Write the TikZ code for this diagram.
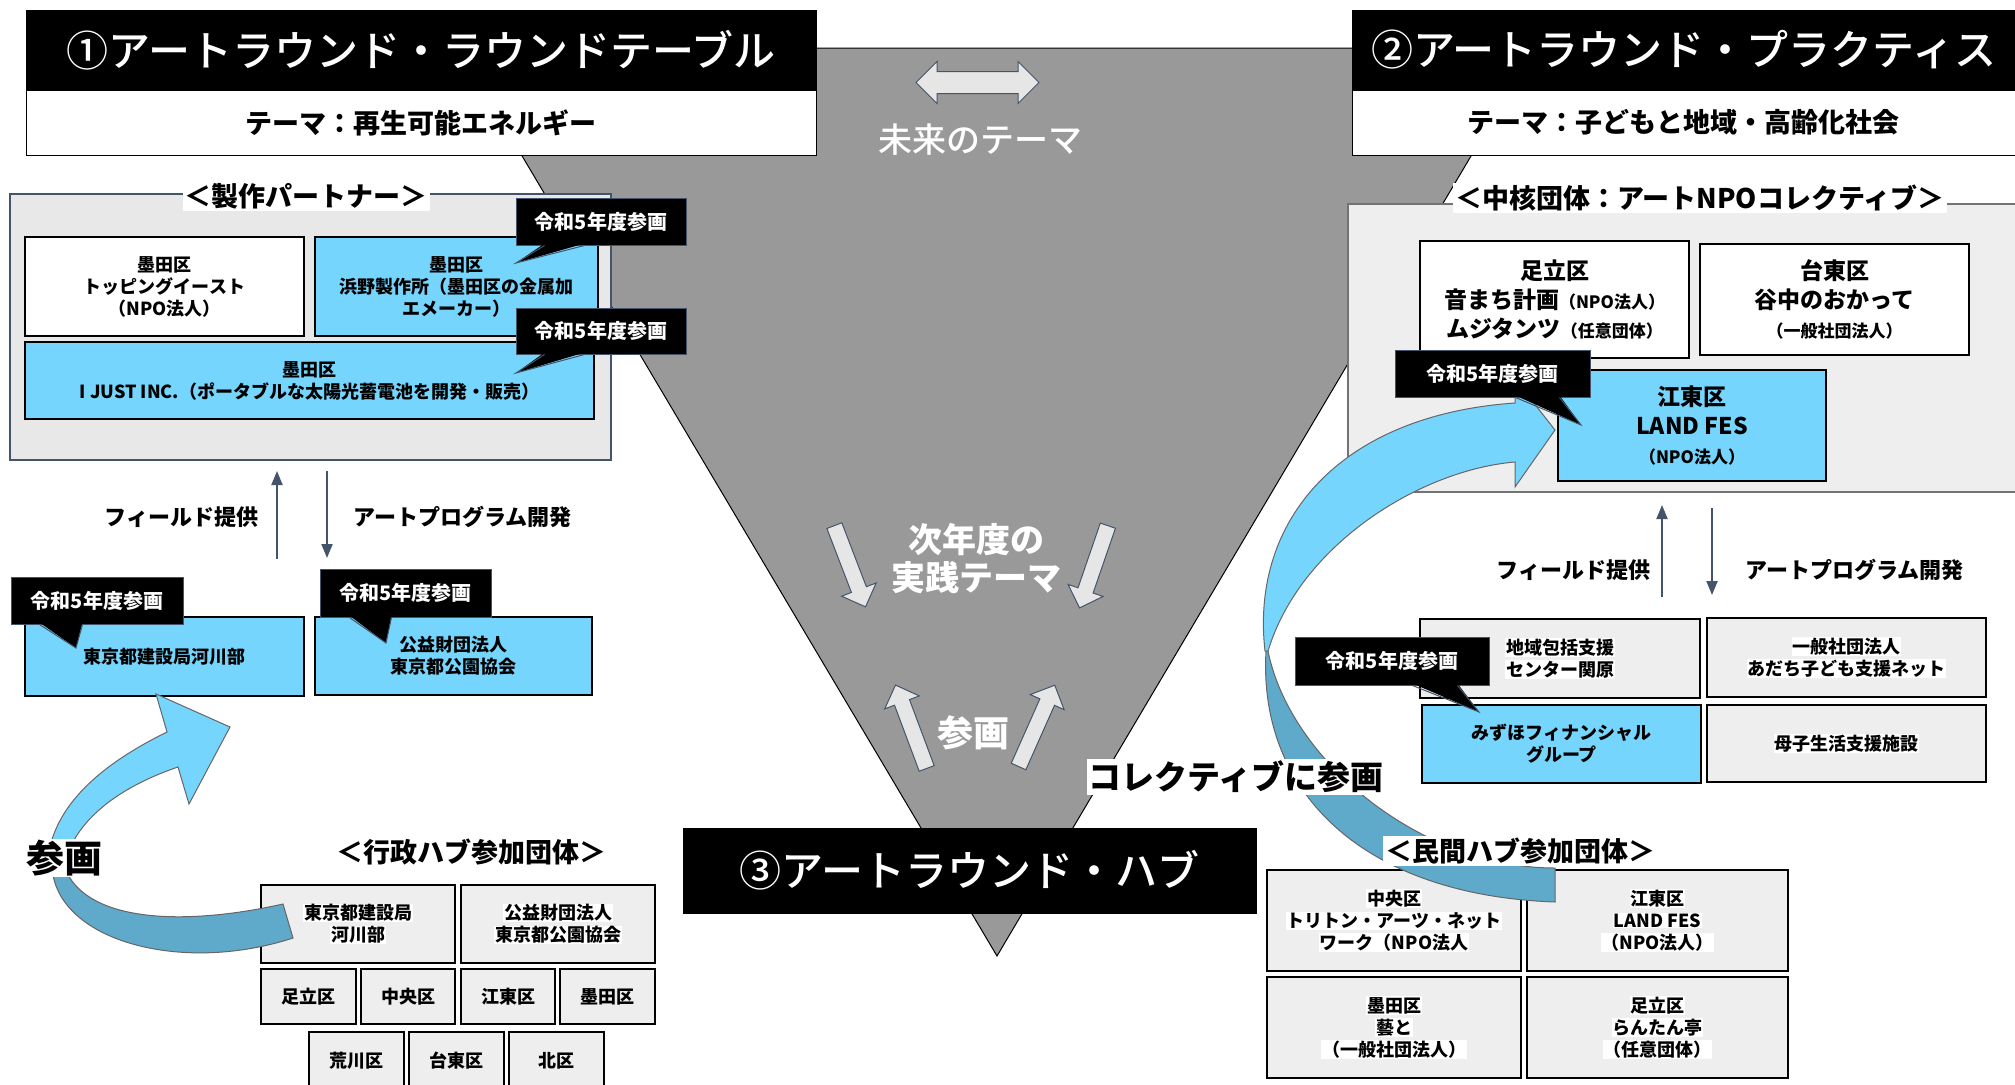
\documentclass[tikz,border=0pt]{standalone}
\usepackage{fontspec}
\setmainfont{Noto Sans CJK JP}
\newfontfamily\mediumjp{Noto Sans CJK JP Medium}
\usetikzlibrary{shapes.arrows,arrows.meta,calc}

\definecolor{boxcyan}{HTML}{75D5FD}
\definecolor{arrowdark}{HTML}{5FA9CA}
\definecolor{slate}{HTML}{44546A}
\definecolor{panelgray}{HTML}{E8E8E8}
\definecolor{cellgray}{HTML}{EEEEEE}
\definecolor{funnelgray}{HTML}{999999}
\definecolor{lightarrow}{HTML}{E7E6E6}

\setlength{\fboxsep}{0.8pt}
\newcommand{\whitebg}[1]{\colorbox{white}{#1}}
\newcommand{\orgtype}[1]{{\fontsize{17}{29}\selectfont #1}}

\tikzset{
  titlebox/.style={draw=black, fill=black, text=white, inner sep=0pt, font=\mediumjp\fontsize{42}{46}\selectfont},
  themebox/.style={draw=black, line width=1pt, fill=white, inner sep=0pt, font=\bfseries\fontsize{27}{30}\selectfont},
  panel/.style={draw=slate, line width=1.5pt, fill=panelgray, inner sep=0pt},
  orgbox/.style={draw=black, line width=1.5pt, inner sep=0pt, align=center, font=\bfseries\fontsize{18}{22}\selectfont},
  whitebox/.style={orgbox, fill=white},
  cyanbox/.style={orgbox, fill=boxcyan},
  graybox/.style={orgbox, fill=cellgray},
  bigorg/.style={font=\bfseries\fontsize{23}{29}\selectfont},
  callout/.style={draw=slate, line width=1pt, fill=black, text=white, inner sep=0pt, font=\bfseries\fontsize{20}{22}\selectfont},
  tailfill/.style={fill=black},
  tailline/.style={draw=slate, line width=1pt},
  headline/.style={fill=white, inner sep=2pt, font=\bfseries\fontsize{27}{30}\selectfont},
  flowlabel/.style={font=\bfseries\fontsize{22}{24}\selectfont},
  flowarrow/.style={draw=slate, line width=2pt, -{Triangle[length=14pt,width=11pt]}},
  funneltext/.style={text=white, align=center, font=\mediumjp\fontsize{34}{38}\selectfont},
  blockarrow/.style={single arrow, draw=slate, fill=lightarrow, line width=1pt, inner xsep=0pt, inner ysep=7.5pt, single arrow head extend=10.5pt},
  bendlight/.style={fill=boxcyan, draw=black!60, line width=1pt},
  benddark/.style={fill=arrowdark, draw=black!60, line width=1pt},
}

\begin{document}
\begin{tikzpicture}[x=1pt,y=-1pt]

\useasboundingbox (0,0) rectangle (2015,1084);

%FUNNEL
\filldraw[fill=funnelgray, draw=black, line width=1pt] (458,48) -- (1535,48) -- (997,956) -- cycle;

%TITLES
\node[titlebox, minimum width=790pt, minimum height=80pt](roundtable) at (421,50) {①アートラウンド・ラウンドテーブル};
\node[themebox, minimum width=790pt, minimum height=65pt](roundtheme) at (421,122.5) {テーマ：再生可能エネルギー};
\node[titlebox, minimum width=663pt, minimum height=80pt](practice) at (1683.5,50) {②アートラウンド・プラクティス};
\node[themebox, minimum width=663pt, minimum height=65pt](practheme) at (1683.5,122.5) {テーマ：子どもと地域・高齢化社会};

%PARTNERS
\node[panel, minimum width=601pt, minimum height=266pt](partners) at (310.5,327) {};
\node[whitebox, minimum width=279pt, minimum height=99pt](topping) at (164.5,286.5) {墨田区\\トッピングイースト\\（NPO法人）};
\node[cyanbox, minimum width=283pt, minimum height=99pt](hamano) at (456.5,286.5) {墨田区\\浜野製作所（墨田区の金属加\\エメーカー）};
\node[cyanbox, minimum width=569pt, minimum height=77pt](ijust) at (309.5,380.5) {墨田区\\I JUST INC.（ポータブルな太陽光蓄電池を開発・販売）};

%CORE
\node[fill=cellgray, inner sep=0pt, minimum width=667pt, minimum height=288pt](core) at (1681.5,348) {};
\draw[black!55, line width=1.5pt] (core.north east) -- (core.north west) -- (core.south west) -- (core.south east);
\node[whitebox, bigorg, minimum width=269pt, minimum height=117pt](otomachi) at (1554.5,299.5) {足立区\\音まち計画\orgtype{（NPO法人）}\\ムジタンツ\orgtype{（任意団体）}};
\node[whitebox, bigorg, minimum width=269pt, minimum height=111pt](yanaka) at (1834.5,299.5) {台東区\\谷中のおかって\\\orgtype{（一般社団法人）}};
\node[cyanbox, bigorg, minimum width=268pt, minimum height=111pt](landfes) at (1692,425.5) {江東区\\LAND FES\\\orgtype{（NPO法人）}};

%FIELD ARROWS
\coordinate(fieldA1) at (277,559);
\coordinate(fieldA2) at (277,471);
\coordinate(progA1) at (327,471);
\coordinate(progA2) at (327,558);
\draw[flowarrow] (fieldA1) -- (fieldA2);
\draw[flowarrow] (progA1) -- (progA2);
\node[flowlabel, anchor=east](fieldlabelA) at (262,517) {フィールド提供};
\node[flowlabel, anchor=west](proglabelA) at (350,517) {アートプログラム開発};

\coordinate(fieldB1) at (1662,597);
\coordinate(fieldB2) at (1662,505);
\coordinate(progB1) at (1712,508);
\coordinate(progB2) at (1712,595);
\draw[flowarrow] (fieldB1) -- (fieldB2);
\draw[flowarrow] (progB1) -- (progB2);
\node[flowlabel, anchor=east](fieldlabelB) at (1654,570) {フィールド提供};
\node[flowlabel, anchor=west](proglabelB) at (1742,570) {アートプログラム開発};

%FUNNEL ARROWS
\node[double arrow, draw=slate, fill=lightarrow, line width=1pt, inner xsep=0pt, inner ysep=10.5pt, minimum height=123pt, double arrow head extend=10pt](future) at (977.5,82.5) {};
\node[funneltext](futuretext) at (980,140) {未来のテーマ};
\node[blockarrow, minimum height=87pt, rotate=-69](downA) at (848.5,562.5) {};
\node[blockarrow, minimum height=87pt, rotate=-109](downB) at (1095,563) {};
\node[funneltext, font=\bfseries\fontsize{34}{38}\selectfont](nexttext) at (976,559) {次年度の\\実践テーマ};
\node[blockarrow, minimum height=89pt, rotate=110.5](upA) at (912.5,730.5) {};
\node[blockarrow, minimum height=89pt, rotate=66](upB) at (1035,729.5) {};
\node[funneltext, font=\bfseries\fontsize{36}{38}\selectfont](jointext) at (973,733) {参画};

%HUB
\node[titlebox, minimum width=573pt, minimum height=85pt](hub) at (969.5,870.5) {③アートラウンド・ハブ};

%GOVERNMENT
\node[cyanbox, minimum width=279pt, minimum height=79pt](kasen) at (164.5,656.5) {東京都建設局河川部};
\node[cyanbox, minimum width=277pt, minimum height=78pt](koen) at (453.5,656) {公益財団法人\\東京都公園協会};

\node[graybox, minimum width=194pt, minimum height=78pt](govkasen) at (358,924) {\whitebg{東京都建設局}\\\whitebg{河川部}};
\node[graybox, minimum width=194pt, minimum height=78pt](govkoen) at (558,924) {\whitebg{公益財団法人}\\\whitebg{東京都公園協会}};
\node[graybox, minimum width=95pt, minimum height=55pt](govadachi) at (308.5,996.5) {足立区};
\node[graybox, minimum width=94pt, minimum height=55pt](govchuo) at (408,996.5) {中央区};
\node[graybox, minimum width=94pt, minimum height=55pt](govkoto) at (508,996.5) {江東区};
\node[graybox, minimum width=95pt, minimum height=55pt](govsumida) at (607.5,996.5) {墨田区};
\node[graybox, minimum width=95pt, minimum height=58pt](govarakawa) at (356.5,1061) {荒川区};
\node[graybox, minimum width=95pt, minimum height=58pt](govtaito) at (456.5,1061) {台東区};
\node[graybox, minimum width=95pt, minimum height=58pt](govkita) at (556.5,1061) {北区};

%PRACTICE FIELD
\node[graybox, minimum width=280pt, minimum height=79pt](sekibara) at (1560,658.5) {\whitebg{地域包括支援}\\\whitebg{センター関原}};
\node[graybox, minimum width=279pt, minimum height=79pt](adachinet) at (1846.5,657.5) {\whitebg{一般社団法人}\\\whitebg{あだち子ども支援ネット}};
\node[cyanbox, minimum width=279pt, minimum height=78pt](mizuho) at (1561.5,744) {みずほフィナンシャル\\グループ};
\node[graybox, minimum width=279pt, minimum height=77pt](boshi) at (1846.5,743.5) {\whitebg{母子生活支援施設}};

%PRIVATE
\node[graybox, minimum width=254pt, minimum height=101pt](triton) at (1394,920.5) {\whitebg{中央区}\\\whitebg{トリトン・アーツ・ネット}\\\whitebg{ワーク（NPO法人}};
\node[graybox, minimum width=261pt, minimum height=101pt](privland) at (1657.5,920.5) {\whitebg{江東区}\\\whitebg{LAND FES}\\\whitebg{（NPO法人）}};
\node[graybox, minimum width=254pt, minimum height=101pt](geito) at (1394,1027.5) {\whitebg{墨田区}\\\whitebg{藝と}\\\whitebg{（一般社団法人）}};
\node[graybox, minimum width=261pt, minimum height=101pt](rantan) at (1657.5,1027.5) {\whitebg{足立区}\\\whitebg{らんたん亭}\\\whitebg{（任意団体）}};

%BENT ARROWS
\path[benddark] (52,866) .. controls (55,940) and (180,975) .. (293,938) -- (283,904) .. controls (190,925) and (85,925) .. (64,866) -- cycle;
\path[bendlight] (230,727) -- (156,694) -- (167,732) .. controls (110,760) and (55,800) .. (48,858) -- (66,858) .. controls (80,815) and (125,785) .. (178,767) -- (189,804) -- cycle;

\path[benddark] (1266,651) .. controls (1258,790) and (1360,895) .. (1555,902) -- (1555,868) .. controls (1420,868) and (1290,760) .. (1268,651) -- cycle;
\path[bendlight] (1555,430) -- (1515,487) -- (1515,462) .. controls (1420,470) and (1300,545) .. (1268,651) -- (1265,651) .. controls (1250,520) and (1340,415) .. (1515,403) -- (1515,379) -- cycle;

%CALLOUTS
\node[callout, minimum width=170pt, minimum height=47pt](new1) at (601,221.5) {令和5年度参画};
\coordinate(new1tip) at (516,263);
\fill[tailfill] ($(new1.south west)+(29,-2)$) -- (new1tip) -- ($(new1.south west)+(69,-2)$) -- cycle;
\draw[tailline] ($(new1.south west)+(29,0)$) -- (new1tip) -- ($(new1.south west)+(69,0)$);

\node[callout, minimum width=170pt, minimum height=46pt](new2) at (601,331) {令和5年度参画};
\coordinate(new2tip) at (516,373);
\fill[tailfill] ($(new2.south west)+(29,-2)$) -- (new2tip) -- ($(new2.south west)+(69,-2)$) -- cycle;
\draw[tailline] ($(new2.south west)+(29,0)$) -- (new2tip) -- ($(new2.south west)+(69,0)$);

\node[callout, minimum width=172pt, minimum height=47pt](new3) at (97,600.5) {令和5年度参画};
\coordinate(new3tip) at (76,648);
\fill[tailfill] ($(new3.south west)+(29,-2)$) -- (new3tip) -- ($(new3.south west)+(72,-2)$) -- cycle;
\draw[tailline] ($(new3.south west)+(29,0)$) -- (new3tip) -- ($(new3.south west)+(72,0)$);

\node[callout, minimum width=171pt, minimum height=48pt](new4) at (405.5,593) {令和5年度参画};
\coordinate(new4tip) at (386,643);
\fill[tailfill] ($(new4.south west)+(30,-2)$) -- (new4tip) -- ($(new4.south west)+(72,-2)$) -- cycle;
\draw[tailline] ($(new4.south west)+(30,0)$) -- (new4tip) -- ($(new4.south west)+(72,0)$);

\node[callout, minimum width=195pt, minimum height=47pt](new5) at (1492.5,373.5) {令和5年度参画};
\coordinate(new5tip) at (1581,425);
\fill[tailfill] ($(new5.south west)+(121,-2)$) -- (new5tip) -- ($(new5.south west)+(165,-2)$) -- cycle;
\draw[tailline] ($(new5.south west)+(121,0)$) -- (new5tip) -- ($(new5.south west)+(165,0)$);

\node[callout, minimum width=194pt, minimum height=48pt](new6) at (1392,661) {令和5年度参画};
\coordinate(new6tip) at (1479,712);
\fill[tailfill] ($(new6.south west)+(118,-2)$) -- (new6tip) -- ($(new6.south west)+(163,-2)$) -- cycle;
\draw[tailline] ($(new6.south west)+(118,0)$) -- (new6tip) -- ($(new6.south west)+(163,0)$);

%LABELS
\node[headline](partnerslabel) at (306,196) {＜製作パートナー＞};
\node[headline](corelabel) at (1700,198) {＜中核団体：アートNPOコレクティブ＞};
\node[headline](govlabel) at (471,852) {＜行政ハブ参加団体＞};
\node[headline](privlabel) at (1520,851) {＜民間ハブ参加団体＞};
\node[headline, font=\bfseries\fontsize{33}{36}\selectfont](collectlabel) at (1236,777) {コレクティブに参画};
\node[headline, inner sep=1pt, font=\bfseries\fontsize{38}{40}\selectfont](joinlabel) at (65,858) {参画};

\end{tikzpicture}
\end{document}
